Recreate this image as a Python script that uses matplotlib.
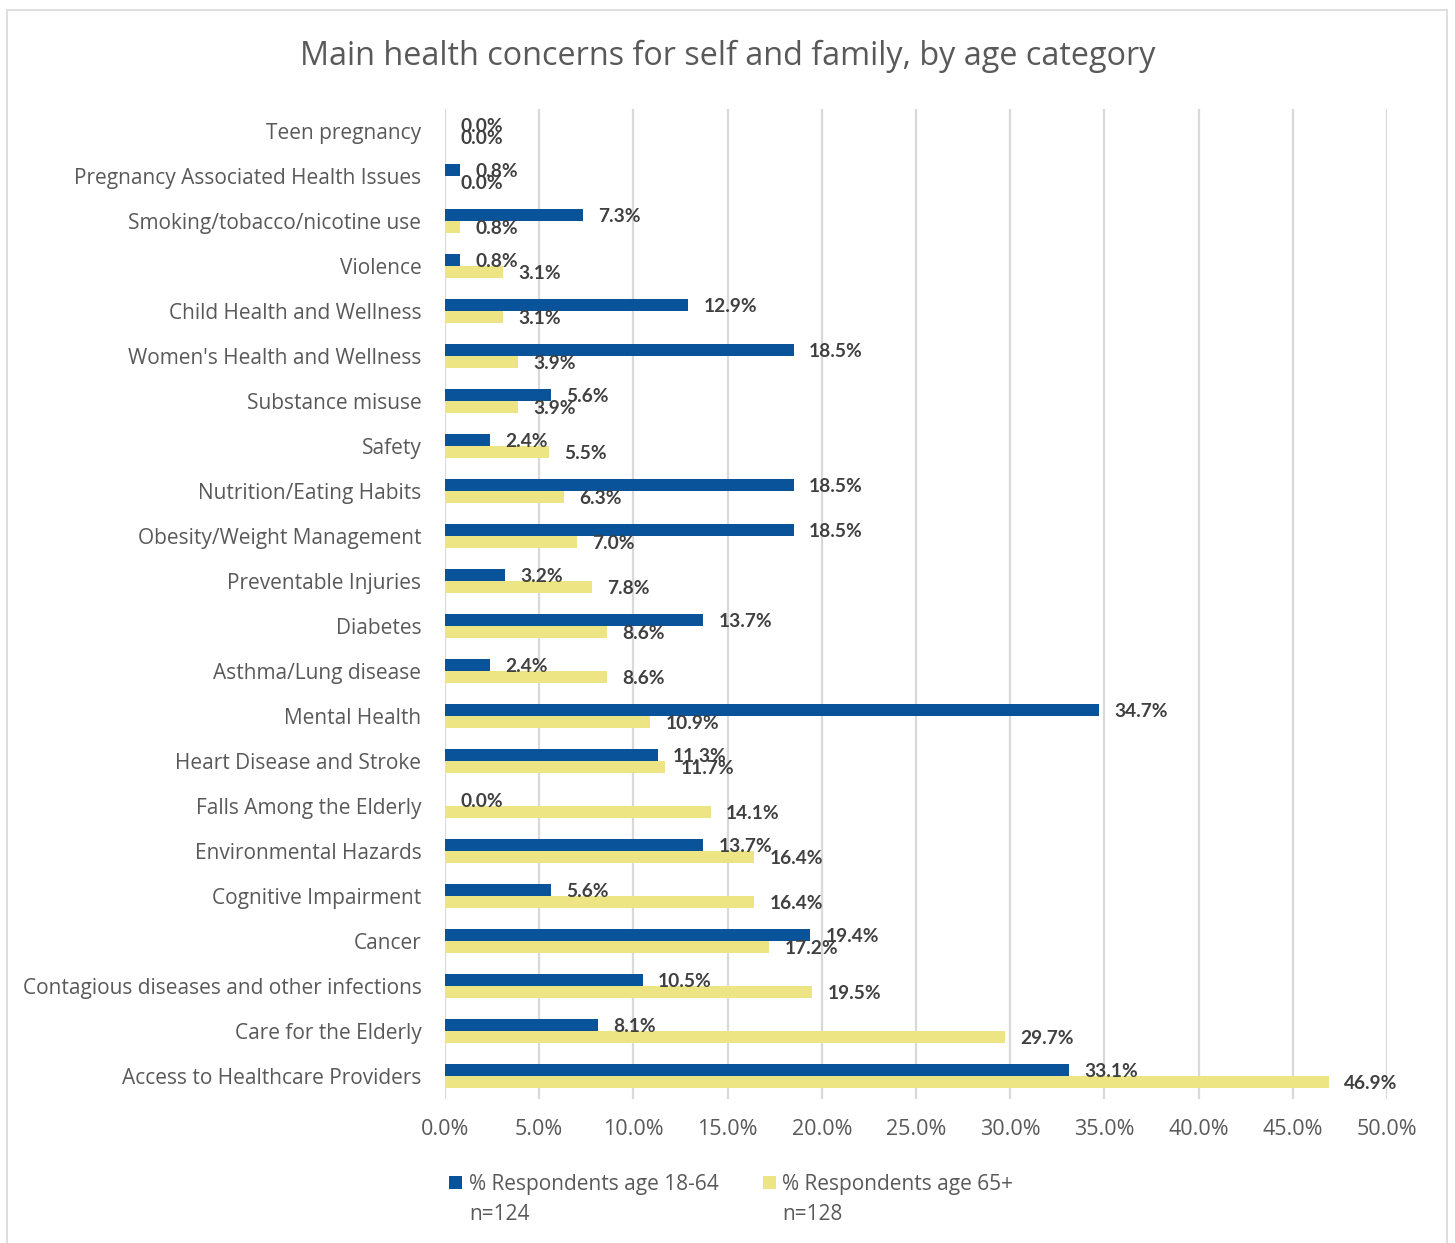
import matplotlib
matplotlib.use("Agg")
import matplotlib.pyplot as plt
from matplotlib.patches import Rectangle
import numpy as np

categories = [
    "Teen pregnancy",
    "Pregnancy Associated Health Issues",
    "Smoking/tobacco/nicotine use",
    "Violence",
    "Child Health and Wellness",
    "Women's Health and Wellness",
    "Substance misuse",
    "Safety",
    "Nutrition/Eating Habits",
    "Obesity/Weight Management",
    "Preventable Injuries",
    "Diabetes",
    "Asthma/Lung disease",
    "Mental Health",
    "Heart Disease and Stroke",
    "Falls Among the Elderly",
    "Environmental Hazards",
    "Cognitive Impairment",
    "Cancer",
    "Contagious diseases and other infections",
    "Care for the Elderly",
    "Access to Healthcare Providers",
]
age_18_64 = [0.0, 0.8, 7.3, 0.8, 12.9, 18.5, 5.6, 2.4, 18.5, 18.5, 3.2,
             13.7, 2.4, 34.7, 11.3, 0.0, 13.7, 5.6, 19.4, 10.5, 8.1, 33.1]
age_65_plus = [0.0, 0.0, 0.8, 3.1, 3.1, 3.9, 3.9, 5.5, 6.3, 7.0, 7.8,
               8.6, 8.6, 10.9, 11.7, 14.1, 16.4, 16.4, 17.2, 19.5, 29.7, 46.9]
series_labels = ["% Respondents age 18-64\nn=124", "% Respondents age 65+\nn=128"]
x_ticks = np.arange(0, 55, 5)

BLUE = "#09539B"
YELLOW = "#EDE584"
GRAY = "#595959"
DARK = "#404040"
GRID = "#D9D9D9"
FONT = ["Open Sans", "DejaVu Sans"]
BOLD_FONT = ["Lato", "DejaVu Sans"]

W, H = 1455, 1243
fig = plt.figure(figsize=(W / 100, H / 100), dpi=100)
fig.patch.set_facecolor("white")

# outer chart frame
fig.patches.append(Rectangle((7 / W, -0.01), (1447 - 7) / W, 1 - 10 / H + 0.01,
                             transform=fig.transFigure, fill=False,
                             edgecolor=GRID, linewidth=1.2))

ax = fig.add_axes([445 / W, 1 - 1098.5 / H, (1387 - 445) / W, (1098.5 - 108.5) / H])

y = np.arange(len(categories))
bh = 0.27
bars_a = ax.barh(y - bh / 2, age_18_64, height=bh, color=BLUE, zorder=3)
bars_b = ax.barh(y + bh / 2, age_65_plus, height=bh, color=YELLOW, zorder=3)

for bars, vals in ((bars_a, age_18_64), (bars_b, age_65_plus)):
    for rect, v in zip(bars, vals):
        ax.annotate(f"{v:.1f}%", (v, rect.get_y() + rect.get_height() / 2),
                    xytext=(11, -1), textcoords="offset points",
                    ha="left", va="center", fontsize=13.8, fontweight="bold",
                    family=BOLD_FONT, color=DARK, zorder=4)

ax.set_ylim(len(categories) - 0.5, -0.5)
ax.set_xlim(0, 50)
ax.set_xticks(x_ticks)
ax.set_xticklabels([f"{t:.1f}%" for t in x_ticks], fontsize=15.5, family=FONT, color=GRAY)
ax.set_yticks(y)
ax.set_yticklabels(categories, fontsize=15, family=FONT, color=GRAY)
ax.tick_params(axis="both", length=0)
ax.tick_params(axis="x", pad=15)
ax.tick_params(axis="y", pad=17)
ax.xaxis.grid(True, color=GRID, linewidth=1.6, zorder=0)
ax.set_axisbelow(True)
for s in ax.spines.values():
    s.set_visible(False)

fig.text(0.5, 1 - 56 / H, "Main health concerns for self and family, by age category",
         ha="center", va="center", fontsize=23.3, family=FONT, color=GRAY)

# legend
for (sx, tx), col, lab in zip(((449, 469), (763, 782)), (BLUE, YELLOW), series_labels):
    fig.patches.append(Rectangle((sx / W, 1 - 1189 / H), 13 / W, 13 / H,
                                 transform=fig.transFigure, facecolor=col, edgecolor="none"))
    fig.text(tx / W, 1 - 1174 / H, lab, ha="left", va="top", fontsize=15,
             family=FONT, color=GRAY, linespacing=1.55)

fig.savefig("out.png", dpi=100)
